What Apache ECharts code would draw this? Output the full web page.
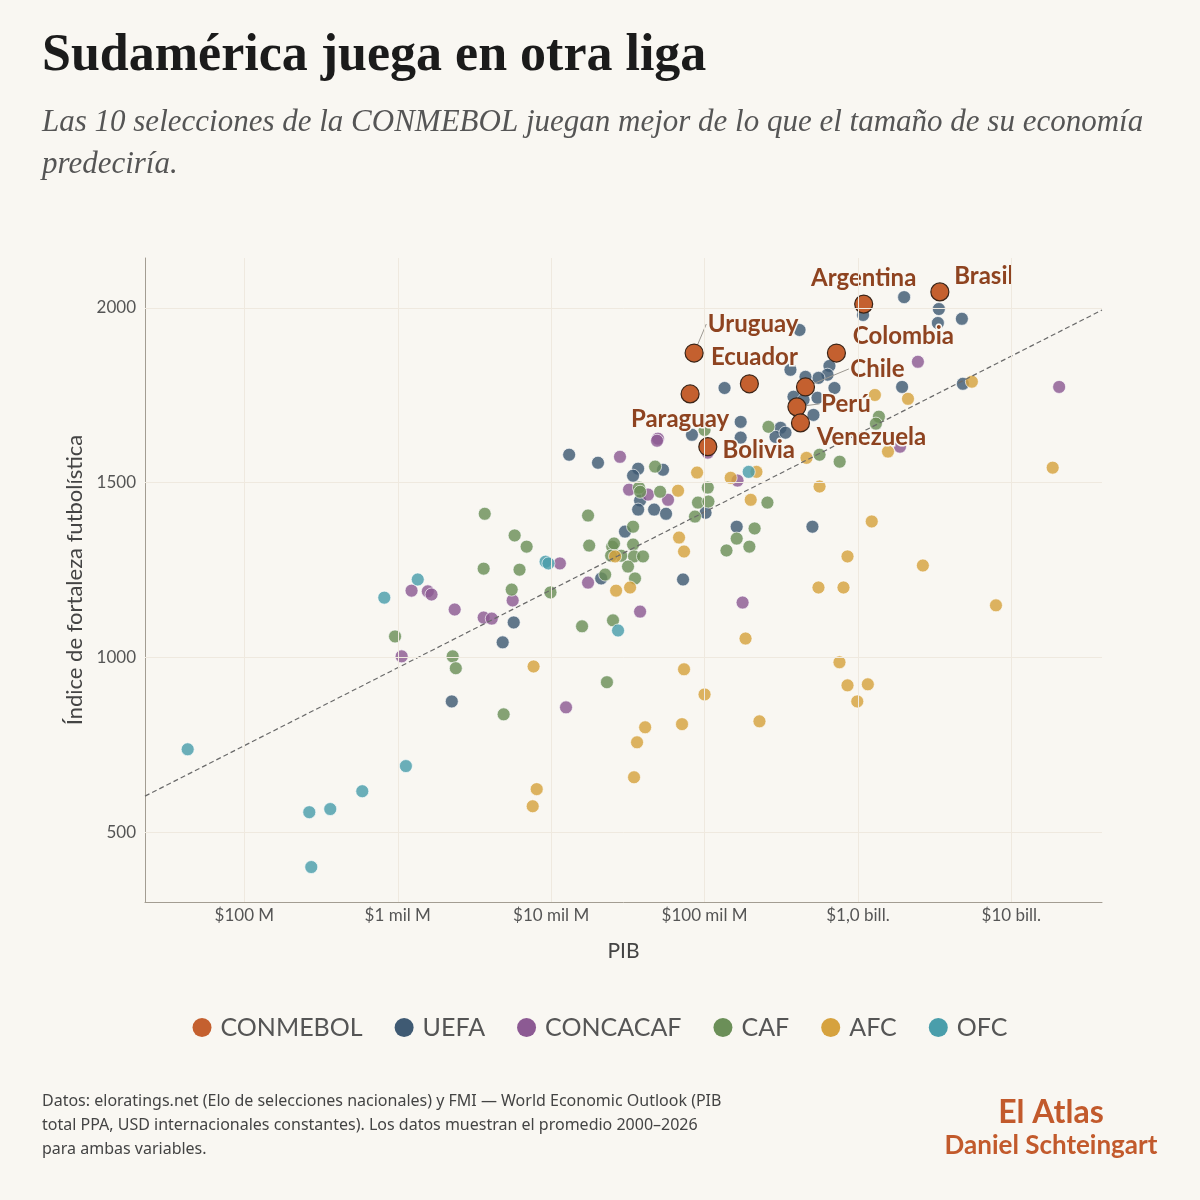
<!DOCTYPE html>
<html>
<head>
<meta charset="utf-8">
<script src="https://cdn.jsdelivr.net/npm/echarts@6/dist/echarts.min.js"></script>
<style>
  html, body { margin: 0; padding: 0; background: #f9f7f2; }
  #chart { width: 1200px; height: 1200px; }
</style>
</head>
<body>
<div id="chart"></div>
<script>
// PIB en millones de USD (PPA), Elo promedio 2000-2026
const confederations = ['CONMEBOL', 'UEFA', 'CONCACAF', 'CAF', 'AFC', 'OFC'];

const conmebol = [
  ['Brasil', 3420000, 2046], ['Argentina', 1090000, 2011], ['Colombia', 724000, 1871],
  ['Uruguay', 85500, 1871], ['Ecuador', 196000, 1783], ['Chile', 455000, 1774],
  ['Perú', 400000, 1717], ['Venezuela', 422000, 1671], ['Paraguay', 80500, 1754],
  ['Bolivia', 105000, 1603]
];

const uefa = [
  [2000000, 2031], [1080000, 1980], [3370000, 1997], [3320000, 1957], [4760000, 1969],
  [1940000, 1774], [4830000, 1783], [652000, 1834], [633000, 1809], [553000, 1800],
  [455000, 1803], [703000, 1771], [363000, 1823], [380000, 1746], [442000, 1737],
  [545000, 1743], [513000, 1694], [313000, 1657], [290000, 1631], [337000, 1643],
  [172000, 1674], [172000, 1629], [416000, 1937], [135000, 1771], [82800, 1637],
  [13100, 1580], [20200, 1557], [36900, 1540], [34200, 1520], [53600, 1537],
  [38000, 1449], [36900, 1423], [46900, 1423], [56100, 1411], [101500, 1414],
  [30300, 1360], [162000, 1374], [505000, 1374], [21200, 1226], [72400, 1223],
  [5700, 1100], [4830, 1043], [2250, 874]
];

const concacaf = [
  [2460000, 1846], [20500000, 1774], [1880000, 1603], [49700, 1626], [49000, 1620],
  [28100, 1574], [105000, 1586], [164000, 1506], [32200, 1480], [42800, 1466],
  [57800, 1451], [11400, 1269], [17400, 1214], [38000, 1131], [177000, 1157],
  [1230, 1191], [1570, 1189], [1660, 1180], [2350, 1137], [3630, 1114],
  [4100, 1111], [5610, 1163], [1060, 1003], [12500, 857]
];

const caf = [
  [1370000, 1689], [1310000, 1669], [261000, 1660], [562000, 1580], [760000, 1560],
  [100000, 1651], [47600, 1546], [37400, 1486], [38000, 1474], [51300, 1474],
  [105000, 1486], [90600, 1443], [106000, 1446], [86600, 1403], [257000, 1443],
  [212000, 1369], [162000, 1340], [139000, 1306], [196000, 1317], [17400, 1406],
  [34200, 1374], [17700, 1320], [25000, 1317], [25700, 1326], [28600, 1291],
  [24600, 1291], [34200, 1323], [34700, 1289], [39700, 1289], [31700, 1260],
  [22500, 1237], [35200, 1226], [25300, 1106], [15900, 1089], [23100, 929],
  [3690, 1411], [5780, 1349], [6920, 1317], [3630, 1254], [6220, 1251],
  [5530, 1194], [9900, 1186], [960, 1060], [2280, 1003], [2390, 969], [4900, 837]
];

const afc = [
  [5530000, 1789], [18600000, 1543], [1290000, 1751], [2120000, 1740], [1570000, 1589],
  [462000, 1571], [562000, 1489], [89400, 1529], [148000, 1514], [218000, 1531],
  [67200, 1477], [200000, 1451], [68200, 1343], [73500, 1303], [26100, 1289],
  [26500, 1191], [32700, 1200], [1230000, 1389], [855000, 1289], [2650000, 1263],
  [553000, 1200], [805000, 1200], [7940000, 1149], [185000, 1054], [758000, 986],
  [855000, 920], [1160000, 923], [990000, 874], [228000, 817], [100000, 894],
  [73500, 966], [71300, 809], [41000, 800], [36300, 757], [34700, 657],
  [7680, 974], [8050, 623], [7580, 574]
];

const ofc = [
  [42.7, 737], [817, 1171], [1350, 1223], [1130, 689], [587, 617], [363, 566],
  [265, 557], [273, 400], [9200, 1274], [9600, 1269], [27300, 1077], [194000, 1531]
];

// línea de tendencia (extremos)
const trendLine = [[22.5, 603], [39000000, 1994]];

const xTicks = [100, 1000, 10000, 100000, 1000000, 10000000];
const xTickLabels = ['$100 M', '$1 mil M', '$10 mil M', '$100 mil M', '$1,0 bill.', '$10 bill.'];
const yTicks = [500, 1000, 1500, 2000];

const colors = {
  CONMEBOL: '#c4602f', UEFA: '#3f5a73', CONCACAF: '#8c5a93',
  CAF: '#6b8f58', AFC: '#d6a23e', OFC: '#4a9eab'
};

// desplazamiento de las etiquetas respecto del punto (px)
const labelOffsets = {
  Brasil: [44, -16], Argentina: [0, -26], Colombia: [67, -17], Uruguay: [59, -29],
  Ecuador: [5, -27], Chile: [72, -18], 'Perú': [49, -3], Venezuela: [71, 14],
  Paraguay: [-10, 25], Bolivia: [51, 4]
};
const withLeader = ['Uruguay', 'Chile', 'Perú'];

const font = 'Lato, "Noto Sans", sans-serif';
const bg = '#f9f7f2';

function dotSeries(name, data) {
  return {
    name: name,
    type: 'scatter',
    data: data,
    symbolSize: 13,
    z: 2,
    itemStyle: {
      color: colors[name],
      opacity: 0.82,
      borderColor: '#ffffff',
      borderWidth: 0.8
    },
    emphasis: { disabled: true }
  };
}

const chart = echarts.init(document.getElementById('chart'));

chart.setOption({
  backgroundColor: bg,
  animation: false,
  title: [
    {
      text: 'Sudamérica juega en otra liga',
      left: 37, top: 26,
      textStyle: { fontFamily: '"Liberation Serif", serif', fontWeight: 'bold', fontSize: 52, color: '#1b1b1b' }
    },
    {
      text: 'Las 10 selecciones de la CONMEBOL juegan mejor de lo que el tamaño de su economía\npredeciría.',
      left: 37, top: 97,
      textStyle: { fontFamily: '"Liberation Serif", serif', fontStyle: 'italic', fontWeight: 'normal', fontSize: 31, lineHeight: 42, color: '#555' }
    },
    {
      text: 'Datos: eloratings.net (Elo de selecciones nacionales) y FMI — World Economic Outlook (PIB\ntotal PPA, USD internacionales constantes). Los datos muestran el promedio 2000–2026\npara ambas variables.',
      left: 37, top: 1084,
      textStyle: { fontFamily: '"Noto Sans", sans-serif', fontWeight: 'normal', fontSize: 16, lineHeight: 24, color: '#444' }
    }
  ],
  graphic: [
    {
      type: 'text', x: 1051, y: 1113,
      style: { text: 'El Atlas', font: 'bold 32px ' + font, fill: '#c25a2c', align: 'center', verticalAlign: 'middle' }
    },
    {
      type: 'text', x: 1051, y: 1146,
      style: { text: 'Daniel Schteingart', font: 'bold 26px ' + font, fill: '#c25a2c', align: 'center', verticalAlign: 'middle' }
    }
  ],
  legend: {
    data: confederations,
    top: 1010,
    left: 'center',
    icon: 'circle',
    itemWidth: 19,
    itemHeight: 19,
    itemGap: 32,
    itemStyle: { borderWidth: 0, opacity: 1 },
    textStyle: { fontFamily: font, fontSize: 25, color: '#555', padding: [0, 0, 0, 4] }
  },
  grid: { left: 145, right: 98, top: 258, bottom: 298 },
  xAxis: {
    type: 'log',
    logBase: 10,
    min: 22.5,
    max: 39000000,
    name: 'PIB',
    nameLocation: 'middle',
    nameGap: 39,
    nameTextStyle: { fontFamily: font, fontSize: 21, color: '#444' },
    axisLine: { show: true, lineStyle: { color: '#a39d92' } },
    axisTick: { show: false },
    splitLine: { show: false },
    axisLabel: {
      customValues: xTicks,
      fontFamily: font, fontSize: 17, color: '#555', margin: 5,
      formatter: function (v) {
        const i = xTicks.findIndex(t => Math.abs(Math.log10(t) - Math.log10(v)) < 0.01);
        return i >= 0 ? xTickLabels[i] : '';
      }
    }
  },
  yAxis: {
    type: 'value',
    min: 300,
    max: 2143,
    name: 'Índice de fortaleza futbolística',
    nameLocation: 'middle',
    nameGap: 57,
    nameTextStyle: { fontFamily: font, fontSize: 22, color: '#444' },
    axisLine: { show: true, lineStyle: { color: '#a39d92' } },
    axisTick: { show: false },
    splitLine: { show: false },
    axisLabel: {
      customValues: yTicks, fontFamily: font, fontSize: 17, color: '#555', margin: 9,
      formatter: v => String(v)
    }
  },
  series: [
    {
      name: 'grid',
      type: 'line',
      data: [],
      z: 0,
      silent: true,
      markLine: {
        silent: true,
        symbol: ['none', 'none'],
        label: { show: false },
        lineStyle: { color: '#efe9df', type: 'solid', width: 1 },
        data: yTicks.map(v => ({ yAxis: v })).concat(xTicks.map(v => ({ xAxis: v })))
      }
    },
    dotSeries('UEFA', uefa),
    dotSeries('CONCACAF', concacaf),
    dotSeries('CAF', caf),
    dotSeries('AFC', afc),
    dotSeries('OFC', ofc),
    {
      name: 'tendencia',
      type: 'line',
      data: trendLine,
      symbol: 'none',
      silent: true,
      z: 3,
      lineStyle: { color: '#6a6a6a', width: 1.2, type: [5, 3] }
    },
    {
      name: 'CONMEBOL',
      type: 'scatter',
      z: 4,
      symbolSize: 18,
      data: conmebol.map(d => ({
        name: d[0],
        value: [d[1], d[2]],
        labelLine: { show: withLeader.indexOf(d[0]) >= 0, lineStyle: { color: '#9c9891', width: 1 } }
      })),
      itemStyle: { color: colors.CONMEBOL, borderColor: '#3a2417', borderWidth: 1.2, opacity: 1 },
      label: {
        show: true,
        position: 'inside',
        formatter: '{b}',
        fontFamily: font,
        fontSize: 24,
        fontWeight: 'bold',
        color: '#8e4320',
        textBorderColor: bg,
        textBorderWidth: 3
      },
      labelLayout: function (params) {
        const o = labelOffsets[conmebol[params.dataIndex][0]];
        return { dx: o[0], dy: o[1] };
      },
      emphasis: { disabled: true }
    }
  ]
});
</script>
</body>
</html>
